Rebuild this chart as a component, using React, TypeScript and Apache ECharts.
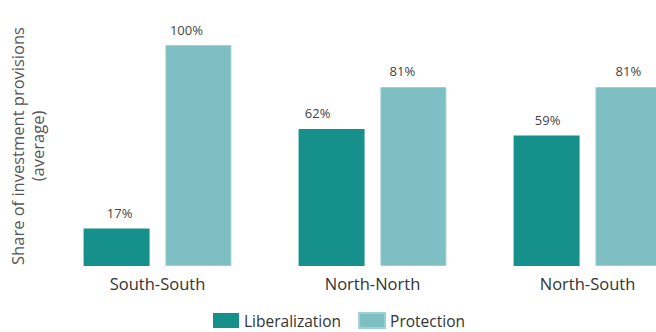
import React, { useEffect, useRef } from "react";
import * as echarts from "echarts";

const categories = ["South-South", "North-North", "North-South"];
const liberalization = [17, 62, 59];
const protection = [100, 81, 81];
const seriesNames = ["Liberalization", "Protection"];
const yAxisTitle = "Share of investment provisions\n(average)";

// horizontal nudges of the value labels, as placed in the reference
const libLabelShift = [3, -14, 1];
const protLabelShift = [-12, -11, 0];

const FONT = "'Open Sans', 'Noto Sans', sans-serif";

export default function App() {
  const ref = useRef<HTMLDivElement>(null);
  useEffect(() => {
    document.body.style.margin = "0";
    const chart = echarts.init(ref.current!, null, { renderer: "svg" });
    const label = {
      show: true,
      position: "top" as const,
      distance: 9,
      formatter: "{c}%",
      fontSize: 13,
      color: "#444",
      fontFamily: FONT,
    };
    const withShift = (vals: number[], shifts: number[]) =>
      vals.map((v, i) => ({ value: v, label: { offset: [shifts[i], 0] } }));
    chart.setOption({
      animation: false,
      backgroundColor: "#ffffff",
      textStyle: { fontFamily: FONT },
      grid: { left: 50, width: 645, top: 45, bottom: 66 },
      xAxis: {
        type: "category",
        data: categories,
        axisLine: { show: false },
        axisTick: { show: false },
        axisLabel: { fontSize: 16.5, color: "#333", margin: 9, fontFamily: FONT },
      },
      yAxis: { type: "value", min: 0, max: 100, show: false },
      legend: {
        left: 213,
        top: 312,
        padding: 0,
        icon: "rect",
        itemWidth: 26,
        itemHeight: 15,
        itemGap: 17,
        textStyle: { fontSize: 15.5, lineHeight: 15, color: "#333", fontFamily: FONT },
        data: seriesNames,
      },
      graphic: [
        {
          type: "text",
          x: 27,
          y: 146,
          rotation: Math.PI / 2,
          style: {
            text: yAxisTitle,
            fontSize: 16.5,
            lineHeight: 20,
            fill: "#555",
            fontFamily: FONT,
            textAlign: "center",
            textVerticalAlign: "middle",
          },
        },
      ],
      series: [
        {
          name: seriesNames[0],
          type: "bar",
          data: withShift(liberalization, libLabelShift),
          barWidth: 66,
          barGap: "24%",
          itemStyle: { color: "#16908b" },
          label,
        },
        {
          name: seriesNames[1],
          type: "bar",
          data: withShift(protection, protLabelShift),
          barWidth: 66,
          itemStyle: { color: "#7ebfc4", borderColor: "#9fd0d4", borderWidth: 1 },
          label,
        },
      ],
    });
    return () => chart.dispose();
  }, []);
  return (
    <div style={{ width: 656, height: 332, overflow: "hidden" }}>
      <div ref={ref} style={{ width: 700, height: 332 }} />
    </div>
  );
}
